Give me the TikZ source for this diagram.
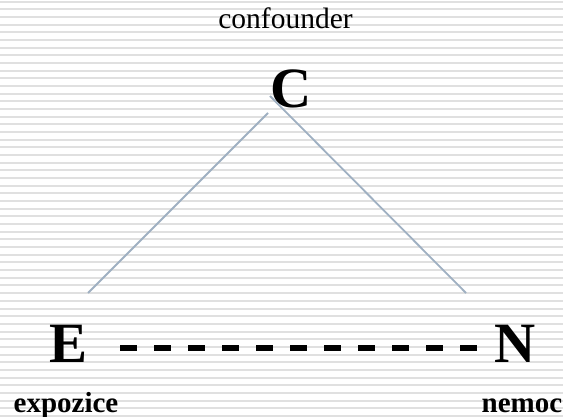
\documentclass[tikz,border=0pt]{standalone}
\usepackage{fontspec}
\setmainfont{Liberation Serif}
\definecolor{stripe}{HTML}{E0E0E0}
\definecolor{edgec}{HTML}{9FB0C2}
\tikzset{
  stripeline/.style={draw=stripe, line width=2pt},
  bigletter/.style={inner sep=0pt, anchor=base, font=\fontsize{57}{60}\selectfont\bfseries},
  caption/.style={inner sep=0pt, anchor=base, font=\fontsize{29}{32}\selectfont\bfseries},
  toplabel/.style={inner sep=0pt, anchor=base, font=\fontsize{29.5}{32}\selectfont},
  edge/.style={draw=edgec, line width=1.8pt},
  dashedge/.style={draw=black, line width=5.5pt, dash pattern=on 17pt off 17pt}
}
\begin{document}
\begin{tikzpicture}[x=1pt,y=-1pt]
\useasboundingbox (0,0) rectangle (563,417);
\fill[white] (0,0) rectangle (563,417);
\foreach \i in {0,...,54} {
  \draw[stripeline] (0,{1.7+7.67*\i}) -- (563,{1.7+7.67*\i});
}
\node[toplabel] (conf) at (285.5,29) {confounder};
\node[bigletter] (C) at (291,108) {C};
\node[bigletter] (E) at (69,362) {E};
\node[bigletter] (N) at (515,362) {N};
\node[caption] (expo) at (66,412) {expozice};
\node[caption] (nemoc) at (522,412) {nemoc};
\coordinate (cl) at (268,113);
\coordinate (el) at (88,293);
\coordinate (cr) at (270,96);
\coordinate (nr) at (466,293);
\coordinate (d1) at (120,348);
\coordinate (d2) at (478,348);
\draw[edge] (cl) -- (el);
\draw[edge] (cr) -- (nr);
\draw[dashedge] (d1) -- (d2);
\end{tikzpicture}
\end{document}
